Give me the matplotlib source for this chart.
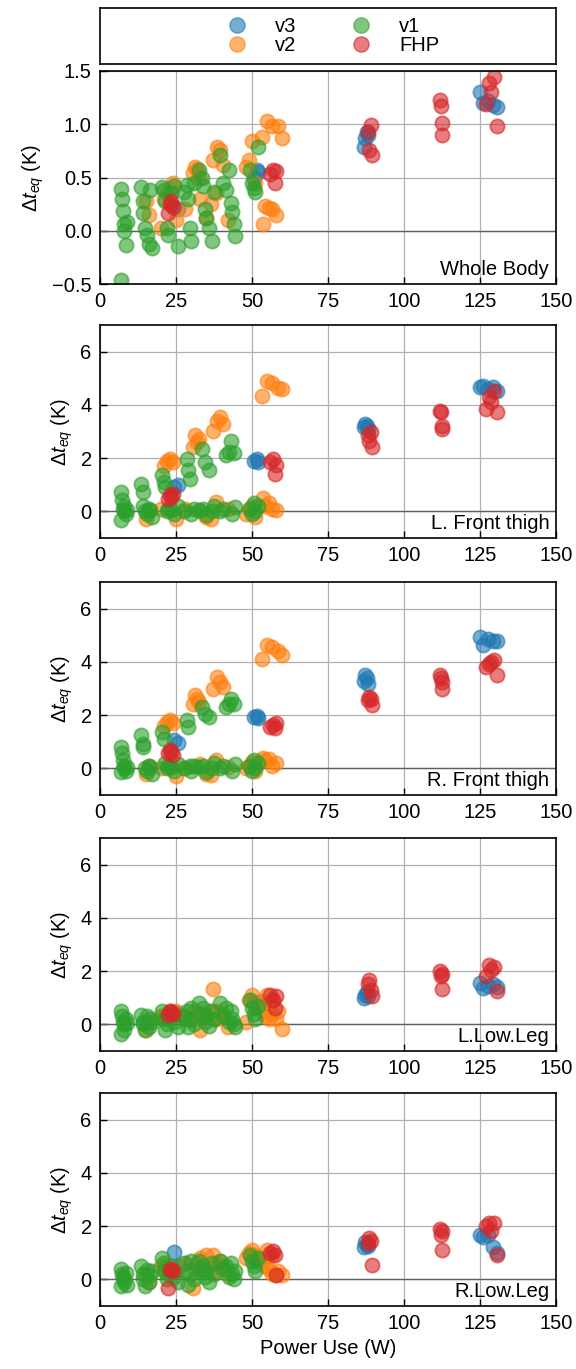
import numpy as np
import matplotlib
matplotlib.use("Agg")
import matplotlib.pyplot as plt
from matplotlib.lines import Line2D

plt.rcParams['font.family'] = ['Liberation Sans', 'DejaVu Sans']
plt.rcParams['mathtext.fontset'] = 'custom'
plt.rcParams['mathtext.rm'] = 'Liberation Sans'
plt.rcParams['mathtext.it'] = 'Liberation Sans:italic'

regions = ['Whole Body', 'L. Front thigh', 'R. Front thigh', 'L.Low.Leg', 'R.Low.Leg']
series = ['v3', 'v2', 'v1', 'FHP']
colors = ['tab:blue', 'tab:orange', 'tab:green', 'tab:red']

# power use (W) per session
x_v3 = [24.5, 25.5, 50.5, 51.5, 52.0, 86.7, 87.3, 87.9, 88.3, 125.0, 126.0, 127.5, 129.4, 130.5]
x_v2 = [21, 22, 23, 24, 30.5, 31.3, 32, 32.5, 37.3, 38.5, 39.5, 40.6, 53.2, 54.8, 56.5, 58.5, 60,
        15, 16, 20, 25, 28, 33, 35, 36.5, 38, 42, 48, 49, 50, 51, 53.7, 54.3, 55.5, 56.5, 58]
x_v1 = [6.8, 7.0, 7.2, 7.5, 7.8, 8.0, 8.5, 9.0,
        13.5, 14.0, 14.2, 14.8, 15.5, 16.0, 16.5, 17.0,
        20.5, 21.0, 21.5, 22.0, 22.5, 23.5, 24.5, 25.5,
        27.5, 28.5, 29.0, 29.5, 30.0, 31.0,
        32.5, 33.5, 34.0, 34.5, 35.0, 36.0, 37.0, 37.5,
        39.5, 40.5, 41.5, 42.5, 43.0, 43.5, 44.0, 44.5,
        49.5, 50.0, 50.5, 51.0, 52.0]
x_fhp = [22.5, 23.0, 23.5, 24.0, 56.0, 57.0, 57.5, 58.0, 88.0, 88.5, 89.0, 89.5,
         112.0, 112.2, 112.4, 112.5, 127.0, 128.0, 128.5, 129.5, 130.5]

# delta t_eq (K), one list per region
y_v3 = [
    [0.22, 0.20, 0.50, 0.57, 0.55, 0.79, 0.87, 0.93, 0.90, 1.30, 1.20, 1.22, 1.18, 1.16],
    [0.91, 1.00, 1.91, 1.95, 1.85, 3.16, 3.28, 3.20, 3.10, 4.66, 4.72, 4.60, 4.66, 4.53],
    [1.06, 0.95, 1.93, 1.98, 1.88, 3.30, 3.50, 3.40, 3.18, 4.93, 4.62, 4.87, 4.80, 4.80],
    [0.45, 0.40, 0.75, 0.85, 0.70, 1.00, 1.10, 1.20, 1.05, 1.56, 1.37, 1.45, 1.50, 1.40],
    [1.04, 0.50, 0.80, 0.70, 0.75, 1.20, 1.40, 1.30, 1.25, 1.65, 1.60, 1.65, 1.20, 1.00],
]
y_v2 = [
    [0.30, 0.35, 0.40, 0.45, 0.54, 0.60, 0.58, 0.50, 0.66, 0.79, 0.76, 0.62, 0.88, 1.03, 0.98, 0.98, 0.87,
     0.28, 0.15, 0.03, 0.10, 0.20, 0.30, 0.12, 0.25, 0.35, 0.10, 0.60, 0.66, 0.84, 0.45, 0.06, 0.23, 0.21, 0.20, 0.15],
    [1.72, 1.91, 1.97, 1.85, 2.41, 2.85, 2.60, 2.70, 3.03, 3.41, 3.54, 3.28, 4.35, 4.90, 4.84, 4.65, 4.60,
     -0.30, 0.00, 0.10, -0.30, 0.10, 0.00, -0.20, -0.30, 0.35, 0.10, -0.10, 0.10, 0.20, -0.20, 0.50, 0.20, 0.30, 0.10, 0.05],
    [1.60, 1.75, 1.81, 1.70, 2.43, 2.74, 2.60, 2.50, 3.00, 3.43, 3.24, 3.06, 4.12, 4.62, 4.55, 4.40, 4.25,
     -0.20, 0.10, 0.00, -0.30, 0.00, 0.15, -0.20, -0.25, 0.30, 0.05, 0.00, 0.10, 0.25, -0.10, 0.40, 0.30, 0.35, 0.10, 0.20],
    [0.30, 0.40, 0.50, 0.35, 0.20, 0.50, 0.30, 0.40, 1.31, 0.50, 0.30, 0.40, 0.87, 1.12, 0.90, 0.50, -0.19,
     -0.20, 0.10, 0.30, 0.50, 0.20, -0.20, 0.30, 0.50, 0.20, -0.10, 0.10, 0.90, 1.12, 0.60, 0.50, 0.30, 0.20, 0.40, 0.20],
    [0.30, 0.50, 0.40, 0.30, -0.33, 0.40, 0.60, 0.30, 0.91, 0.60, 0.70, 0.50, 0.80, 1.10, 0.90, 0.30, 0.16,
     0.20, -0.10, 0.50, 0.30, 0.60, 0.80, 0.90, 0.40, 0.30, 0.20, 0.80, 1.00, 1.10, 0.90, 0.70, 0.50, 0.40, 0.20, 0.15],
]
y_v1 = [
    [0.39, -0.46, 0.30, 0.19, 0.06, 0.00, -0.13, 0.08,
     0.41, 0.28, 0.17, 0.03, -0.04, -0.12, 0.38, -0.16,
     0.41, 0.38, 0.28, 0.03, -0.04, 0.35, 0.42, -0.14,
     0.36, 0.43, 0.30, 0.03, -0.10, 0.45,
     0.57, 0.50, 0.42, 0.20, 0.12, 0.03, -0.10, 0.36,
     0.71, 0.45, 0.38, 0.57, 0.26, 0.18, 0.06, -0.05,
     0.57, 0.45, 0.40, 0.36, 0.79],
    [0.73, -0.33, 0.41, 0.10, 0.00, 0.20, -0.10, 0.05,
     1.04, 0.73, 0.20, 0.00, -0.10, 0.10, 0.05, -0.20,
     1.35, 1.10, 0.90, 0.00, 0.10, 0.05, -0.10, 0.20,
     0.00, 1.97, 1.54, 1.20, -0.10, 0.10,
     0.05, 2.35, 0.10, 1.85, -0.15, 1.54, 0.00, 0.20,
     0.00, 0.10, 2.10, 2.22, 2.65, -0.10, 2.20, 0.15,
     0.10, -0.10, 0.30, 0.00, 0.20],
    [0.81, -0.12, 0.56, 0.31, 0.00, 0.10, -0.10, 0.05,
     1.25, 0.93, 0.81, 0.00, -0.10, 0.10, 0.05, -0.20,
     1.37, 1.12, 0.20, 0.00, 0.10, 0.05, -0.10, 0.15,
     0.00, 1.81, 1.56, 0.10, -0.10, 0.10,
     0.05, 2.30, 0.10, 2.06, -0.15, 1.93, 0.00, 0.20,
     0.00, 0.10, 2.30, 2.43, 2.62, -0.10, 2.40, 0.15,
     0.10, -0.10, 0.30, 0.00, 0.20],
    [0.50, -0.35, 0.30, 0.10, 0.00, -0.20, 0.20, 0.05,
     0.35, 0.10, 0.00, -0.20, 0.30, -0.10, 0.20, 0.10,
     0.50, 0.20, -0.20, 0.00, 0.30, 0.40, 0.10, -0.10,
     0.30, 0.50, -0.10, 0.20, 0.60, 0.00,
     0.80, 0.40, 0.60, 0.10, 0.30, -0.05, 0.50, 0.20,
     0.80, 0.30, 0.60, 0.10, 0.50, 0.20, 0.00, -0.10,
     0.90, 0.60, 0.40, 0.20, 0.70],
    [0.40, -0.25, 0.20, 0.10, -0.10, 0.00, 0.25, -0.20,
     0.50, 0.20, 0.00, -0.25, 0.35, -0.10, 0.15, 0.30,
     0.80, 0.60, 0.30, 0.00, 0.20, 0.50, 0.10, -0.10,
     0.60, 0.30, -0.20, 0.20, 0.70, 0.00,
     0.70, 0.40, 0.50, 0.10, 0.30, -0.10, 0.60, 0.20,
     0.70, 0.40, 0.50, 0.10, 0.60, 0.20, 0.00, 0.30,
     0.90, 0.70, 0.50, 0.30, 0.80],
]
y_fhp = [
    [0.17, 0.25, 0.28, 0.22, 0.53, 0.57, 0.45, 0.56, 0.93, 0.76, 0.995, 0.71, 1.23, 1.17, 1.01, 0.90, 1.19, 1.39, 1.30, 1.44, 0.98],
    [0.47, 0.60, 0.55, 0.65, 1.85, 1.95, 1.40, 1.75, 2.85, 2.66, 2.97, 2.41, 3.78, 3.72, 3.22, 3.10, 3.84, 4.28, 4.10, 4.53, 3.72],
    [0.56, 0.68, 0.62, 0.50, 1.56, 1.62, 1.50, 1.70, 2.55, 2.68, 2.60, 2.37, 3.50, 3.40, 3.24, 2.99, 3.81, 3.93, 4.00, 4.06, 3.50],
    [0.35, 0.50, 0.45, 0.40, 1.12, 0.90, 0.62, 1.05, 1.50, 1.68, 1.30, 1.06, 1.99, 1.81, 1.90, 1.31, 1.81, 2.24, 2.06, 2.15, 1.25],
    [-0.34, 0.35, 0.40, 0.30, 1.00, 1.05, 0.90, 0.16, 1.35, 1.54, 1.45, 0.53, 1.90, 1.65, 1.80, 1.09, 2.00, 2.10, 1.80, 2.10, 0.90],
]

xs = [x_v3, x_v2, x_v1, x_fhp]
ys = [y_v3, y_v2, y_v1, y_fhp]

W, H = 576, 1369
fig = plt.figure(figsize=(W / 100, H / 100), dpi=100)
left, width = 100 / W, 456 / W
tops = [71, 325, 582, 838, 1093]
h = 213
fs = 14.5

for i, reg in enumerate(regions):
    ax = fig.add_axes([left, 1 - (tops[i] + h) / H, width, h / H])
    ax.set_axisbelow(True)
    ax.grid(True, color='#b0b0b0', lw=0.9)
    ax.axhline(0, color='#606060', lw=1.0, zorder=1)
    for s, c, x, y in zip(series, colors, xs, ys):
        ax.scatter(x, y[i], s=105, color=c, alpha=0.6, linewidths=1.3, zorder=2)
    ax.set_xlim(0, 150)
    ax.set_xticks([0, 25, 50, 75, 100, 125, 150])
    if i == 0:
        ax.set_ylim(-0.5, 1.5)
        ax.set_yticks([-0.5, 0, 0.5, 1.0, 1.5])
    else:
        ax.set_ylim(-1, 7)
        ax.set_yticks([0, 2, 4, 6])
    ax.tick_params(direction='in', labelsize=fs, length=5, width=1, pad=6)
    for sp in ax.spines.values():
        sp.set_linewidth(1.2)
    ax.set_ylabel(r'$\Delta t_{eq}$ (K)', fontsize=fs)
    ax.text(0.985, 0.025, reg, transform=ax.transAxes, ha='right', va='bottom', fontsize=fs)
    if i == len(regions) - 1:
        ax.set_xlabel('Power Use (W)', fontsize=fs)

# legend in its own box above the panels
lax = fig.add_axes([left, 1 - 64 / H, width, 56 / H])
lax.set_xticks([])
lax.set_yticks([])
for sp in lax.spines.values():
    sp.set_linewidth(1.2)
handles = [Line2D([], [], ls='', marker='o', ms=11, color=c, alpha=0.6) for c in colors]
lax.legend(handles, series, loc='center', ncol=2, frameon=False, fontsize=fs,
           handletextpad=0.9, columnspacing=2.2, labelspacing=0.0, borderpad=0)

fig.savefig('out.png', dpi=100)
